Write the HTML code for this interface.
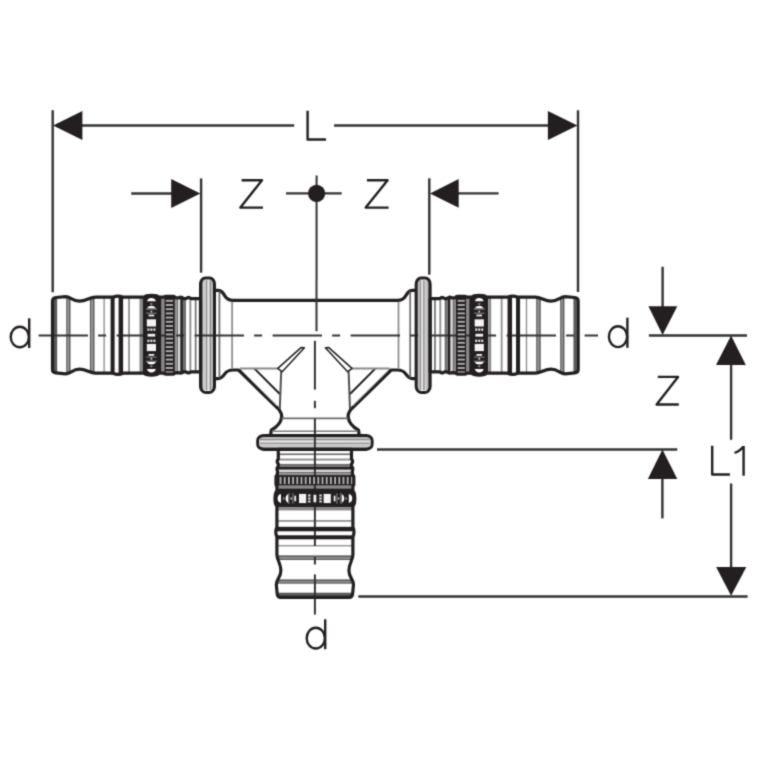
<!DOCTYPE html><html><head><meta charset="utf-8"><style>html,body{margin:0;padding:0;background:#fff;width:762px;height:762px;overflow:hidden;}svg{display:block;font-family:"Liberation Sans",sans-serif;}</style></head><body><svg width="762" height="762" viewBox="0 0 762 762"><filter id="bl" x="0" y="0" width="762" height="762" filterUnits="userSpaceOnUse" color-interpolation-filters="sRGB"><feConvolveMatrix order="3" kernelMatrix="0.02768 0.11101 0.02768 0.11101 0.44521 0.11101 0.02768 0.11101 0.02768" divisor="1" preserveAlpha="true"/></filter><rect width="762" height="762" fill="#fff"/><g filter="url(#bl)"><rect width="762" height="762" fill="#fff"/><defs><clipPath id="pc"><path d="M0,-36.6 L9.5,-36.6 Q12,-38.8 14.5,-36.6 L16.8,-36.6 Q19.2,-38.8 21.6,-37.4 L25.5,-37.6 Q26,-38.9 27,-38.9 L35,-38.9 Q36,-38.9 36.5,-38 L41.5,-38 C42.8,-39.6 44.5,-39.9 49,-39.9 C53.5,-39.9 55.2,-39.6 56.6,-38 L77.5,-38 Q82.5,-40.2 87.5,-38 L105,-38 C111,-38 114,-34 121,-34 C128,-34 130,-38.6 135,-38.6 L144.5,-37.7 Q148.0,-37.4 148.0,-34.2 L148.0,34.2 Q148.0,37.4 144.5,37.7 L135,38.6 C130,38.6 128,34 121,34 C114,34 111,38 105,38 L87.5,38 Q82.5,40.2 77.5,38 L56.6,38 C55.2,39.6 53.5,39.9 49,39.9 C44.5,39.9 42.8,39.6 41.5,38 L36.5,38 Q36,38.9 35,38.9 L27,38.9 Q26,38.9 25.5,37.6 L21.6,37.4 Q19.2,38.8 16.8,36.6 L14.5,36.6 Q12,38.8 9.5,36.6 L0,36.6 Z"/></clipPath><g id="pA"><rect x="-14" y="-57.2" width="14" height="114.4" rx="5" ry="6" fill="#fff"/><rect x="-2.80" y="-55" width="1.60" height="110" fill="#868686"/><rect x="-5.50" y="-55" width="2.70" height="110" fill="#cacaca"/><rect x="-7.10" y="-55" width="1.60" height="110" fill="#929292"/><rect x="-9.00" y="-55" width="1.90" height="110" fill="#e6e6e6"/><rect x="-10.60" y="-55" width="1.60" height="110" fill="#8e8e8e"/><rect x="-12.80" y="-55" width="2.20" height="110" fill="#b6b6b6"/><path d="M0,-36.6 L9.5,-36.6 Q12,-38.8 14.5,-36.6 L16.8,-36.6 Q19.2,-38.8 21.6,-37.4 L25.5,-37.6 Q26,-38.9 27,-38.9 L35,-38.9 Q36,-38.9 36.5,-38 L41.5,-38 C42.8,-39.6 44.5,-39.9 49,-39.9 C53.5,-39.9 55.2,-39.6 56.6,-38 L77.5,-38 Q82.5,-40.2 87.5,-38 L105,-38 C111,-38 114,-34 121,-34 C128,-34 130,-38.6 135,-38.6 L144.5,-37.7 Q148.0,-37.4 148.0,-34.2 L148.0,34.2 Q148.0,37.4 144.5,37.7 L135,38.6 C130,38.6 128,34 121,34 C114,34 111,38 105,38 L87.5,38 Q82.5,40.2 77.5,38 L56.6,38 C55.2,39.6 53.5,39.9 49,39.9 C44.5,39.9 42.8,39.6 41.5,38 L36.5,38 Q36,38.9 35,38.9 L27,38.9 Q26,38.9 25.5,37.6 L21.6,37.4 Q19.2,38.8 16.8,36.6 L14.5,36.6 Q12,38.8 9.5,36.6 L0,36.6 Z" fill="#fff"/><g clip-path="url(#pc)"><rect x="4.00" y="-42" width="1.70" height="84" fill="#707070"/><rect x="9.20" y="-42" width="1.90" height="84" fill="#8e8e8e"/><rect x="14.50" y="-42" width="3.00" height="84" fill="#707070"/><rect x="20.20" y="-42" width="2.30" height="84" fill="#dcdcdc"/><rect x="22.50" y="-42" width="1.30" height="84" fill="#6a6a6a"/><rect x="23.80" y="-42" width="1.90" height="84" fill="#8a8a8a"/><rect x="36.20" y="-42" width="2.80" height="84" fill="#8a8a8a"/><rect x="58.30" y="-42" width="2.70" height="84" fill="#8a8a8a"/><rect x="70.60" y="-42" width="1.80" height="84" fill="#909090"/><rect x="95.70" y="-42" width="1.30" height="84" fill="#8a8a8a"/><rect x="106.00" y="-42" width="1.60" height="84" fill="#5e5e5e"/><rect x="107.60" y="-42" width="1.40" height="84" fill="#8e8e8e"/><rect x="109.00" y="-42" width="1.60" height="84" fill="#5e5e5e"/><rect x="130.00" y="-42" width="1.60" height="84" fill="#5e5e5e"/><rect x="131.60" y="-42" width="1.20" height="84" fill="#8e8e8e"/><rect x="132.80" y="-42" width="1.50" height="84" fill="#5e5e5e"/><rect x="143.30" y="-42" width="3.30" height="84" fill="#5a5a5a"/></g></g><g id="pB"><g clip-path="url(#pc)"><rect x="17.60" y="-42" width="2.60" height="84" fill="#231f20"/><rect x="25.70" y="-42" width="10.50" height="84" fill="#231f20"/><rect x="27.5" y="-35.30" width="7.2" height="1.8" fill="#b4b4b4"/><rect x="27.5" y="-31.10" width="7.2" height="1.8" fill="#b4b4b4"/><rect x="27.5" y="-26.90" width="7.2" height="1.8" fill="#b4b4b4"/><rect x="27.5" y="-22.70" width="7.2" height="1.8" fill="#b4b4b4"/><rect x="27.5" y="-18.50" width="7.2" height="1.8" fill="#b4b4b4"/><rect x="27.5" y="-14.30" width="7.2" height="1.8" fill="#b4b4b4"/><rect x="27.5" y="-10.10" width="7.2" height="1.8" fill="#b4b4b4"/><rect x="27.5" y="-5.90" width="7.2" height="1.8" fill="#b4b4b4"/><rect x="27.5" y="-1.70" width="7.2" height="1.8" fill="#b4b4b4"/><rect x="27.5" y="2.50" width="7.2" height="1.8" fill="#b4b4b4"/><rect x="27.5" y="6.70" width="7.2" height="1.8" fill="#b4b4b4"/><rect x="27.5" y="10.90" width="7.2" height="1.8" fill="#b4b4b4"/><rect x="27.5" y="15.10" width="7.2" height="1.8" fill="#b4b4b4"/><rect x="27.5" y="19.30" width="7.2" height="1.8" fill="#b4b4b4"/><rect x="27.5" y="23.50" width="7.2" height="1.8" fill="#b4b4b4"/><rect x="27.5" y="27.70" width="7.2" height="1.8" fill="#b4b4b4"/><rect x="27.5" y="31.90" width="7.2" height="1.8" fill="#b4b4b4"/><rect x="27.5" y="36.10" width="7.2" height="1.8" fill="#b4b4b4"/><rect x="39.00" y="-42" width="19.00" height="84" fill="#231f20"/><path d="M44.7,-33.9 Q45.5,-37.3 49.1,-37.3 Q52.7,-37.3 53.5,-33.9 Z" fill="#fff"/><rect x="48.1" y="-32.00" width="2" height="1.6" fill="#9a9a9a"/><path d="M44.5,-26.8 Q45.7,-29.4 49.1,-29.4 Q52.5,-29.4 53.7,-26.8 Z" fill="#fff"/><rect x="43.7" y="-26.75" width="10.8" height="1.3" fill="#7a7a7a"/><rect x="48.300000000000004" y="-24.40" width="1.6" height="1.8" fill="#e0e0e0"/><rect x="43.9" y="-22.70" width="10.4" height="1.4" fill="#6a6a6a"/><rect x="46.300000000000004" y="-20.60" width="5.6" height="1.8" fill="#f0f0f0"/><rect x="44.5" y="-15.90" width="9.2" height="7.2" fill="#f4f4f4"/><rect x="45.10" y="-6.80" width="2" height="2.4" fill="#e8e8e8"/><rect x="48.10" y="-6.80" width="2" height="2.4" fill="#e8e8e8"/><rect x="51.10" y="-6.80" width="2" height="2.4" fill="#e8e8e8"/><path d="M44.7,33.9 Q45.5,37.3 49.1,37.3 Q52.7,37.3 53.5,33.9 Z" fill="#fff"/><rect x="48.1" y="30.40" width="2" height="1.6" fill="#9a9a9a"/><path d="M44.5,26.8 Q45.7,29.4 49.1,29.4 Q52.5,29.4 53.7,26.8 Z" fill="#fff"/><rect x="43.7" y="25.45" width="10.8" height="1.3" fill="#7a7a7a"/><rect x="48.300000000000004" y="22.60" width="1.6" height="1.8" fill="#e0e0e0"/><rect x="43.9" y="21.30" width="10.4" height="1.4" fill="#6a6a6a"/><rect x="46.300000000000004" y="18.80" width="5.6" height="1.8" fill="#f0f0f0"/><rect x="44.5" y="8.70" width="9.2" height="7.2" fill="#f4f4f4"/><rect x="45.10" y="4.40" width="2" height="2.4" fill="#e8e8e8"/><rect x="48.10" y="4.40" width="2" height="2.4" fill="#e8e8e8"/><rect x="51.10" y="4.40" width="2" height="2.4" fill="#e8e8e8"/><rect x="45.300000000000004" y="-1.4" width="7.6" height="2.8" fill="#f4f4f4"/><rect x="77.40" y="-42" width="4.50" height="84" fill="#231f20"/><rect x="85.90" y="-42" width="4.00" height="84" fill="#231f20"/></g><path d="M0,-36.6 L9.5,-36.6 Q12,-38.8 14.5,-36.6 L16.8,-36.6 Q19.2,-38.8 21.6,-37.4 L25.5,-37.6 Q26,-38.9 27,-38.9 L35,-38.9 Q36,-38.9 36.5,-38 L41.5,-38 C42.8,-39.6 44.5,-39.9 49,-39.9 C53.5,-39.9 55.2,-39.6 56.6,-38 L77.5,-38 Q82.5,-40.2 87.5,-38 L105,-38 C111,-38 114,-34 121,-34 C128,-34 130,-38.6 135,-38.6 L144.5,-37.7 Q148.0,-37.4 148.0,-34.2 L148.0,34.2 Q148.0,37.4 144.5,37.7 L135,38.6 C130,38.6 128,34 121,34 C114,34 111,38 105,38 L87.5,38 Q82.5,40.2 77.5,38 L56.6,38 C55.2,39.6 53.5,39.9 49,39.9 C44.5,39.9 42.8,39.6 41.5,38 L36.5,38 Q36,38.9 35,38.9 L27,38.9 Q26,38.9 25.5,37.6 L21.6,37.4 Q19.2,38.8 16.8,36.6 L14.5,36.6 Q12,38.8 9.5,36.6 L0,36.6 Z" fill="none" stroke="#231f20" stroke-width="3.2" stroke-linejoin="round"/><rect x="-14" y="-57.2" width="14" height="114.4" rx="5" ry="6" fill="none" stroke="#231f20" stroke-width="3.0"/></g></defs><path d="M214,290.4 L218.2,290.4 C221.5,290.4 222.8,292.5 224.8,295.8 C226.8,299 228.8,300.4 233,300.4 L397.5,300.4 C401.7,300.4 403.7,299 405.7,295.8 C407.7,292.5 409,290.4 412.3,290.4 L416.5,290.4 L416.5,378.6 L412.3,378.6 C409,378.6 407.7,376.8 405.7,373.9 C403.7,371 401.7,370.0 397.5,370.0 L233,370.0 C228.8,370.0 226.8,371 224.8,373.9 C222.8,376.8 221.5,378.6 218.2,378.6 L214,378.6 Z" fill="#fff" stroke="#231f20" stroke-width="3.2"/><line x1="219.4" y1="291.5" x2="219.4" y2="377.5" stroke="#6e6e6e" stroke-width="1.8"/><line x1="410.2" y1="291.5" x2="410.2" y2="377.5" stroke="#6e6e6e" stroke-width="1.8"/><line x1="232.1" y1="301.79999999999995" x2="232.1" y2="368.6" stroke="#8a8a8a" stroke-width="1.7"/><line x1="398.5" y1="301.79999999999995" x2="398.5" y2="368.6" stroke="#8a8a8a" stroke-width="1.7"/><path d="M238.6,367.7 L279.1,409.6 C281.5,413 282,416 281.5,418 C280.5,424 275,428 270.5,430.4 L270.5,437 L314.9,437 L314.9,367.7 Z" fill="#fff"/><path d="M238.6,370.0 L279.1,409.6 C281.5,413 282,416 281.5,418 C280.5,424 275,428 271.3,430.2 L270.6,435" fill="none" stroke="#231f20" stroke-width="3.3" stroke-linejoin="round"/><line x1="242" y1="370.8" x2="277" y2="406" stroke="#9a9a9a" stroke-width="1.0"/><line x1="254.5" y1="368.6" x2="279.8" y2="394" stroke="#231f20" stroke-width="2.0"/><line x1="240" y1="368.5" x2="278" y2="368.5" stroke="#8a8a8a" stroke-width="2"/><line x1="281.2" y1="371.5" x2="279.8" y2="409" stroke="#505050" stroke-width="2"/><path d="M277.8,368.4 L301,347.6 L304.4,347.8 L282.2,371.8 Z" fill="#fff" stroke="#231f20" stroke-width="1.5" stroke-linejoin="round"/><g transform="matrix(-1,0,0,1,629.8,0)"><path d="M238.6,367.7 L279.1,409.6 C281.5,413 282,416 281.5,418 C280.5,424 275,428 270.5,430.4 L270.5,437 L314.9,437 L314.9,367.7 Z" fill="#fff"/><path d="M238.6,370.0 L279.1,409.6 C281.5,413 282,416 281.5,418 C280.5,424 275,428 271.3,430.2 L270.6,435" fill="none" stroke="#231f20" stroke-width="3.3" stroke-linejoin="round"/><line x1="242" y1="370.8" x2="277" y2="406" stroke="#9a9a9a" stroke-width="1.0"/><line x1="254.5" y1="368.6" x2="279.8" y2="394" stroke="#231f20" stroke-width="2.0"/><line x1="240" y1="368.5" x2="278" y2="368.5" stroke="#8a8a8a" stroke-width="2"/><line x1="281.2" y1="371.5" x2="279.8" y2="409" stroke="#505050" stroke-width="2"/><path d="M277.8,368.4 L301,347.6 L304.4,347.8 L282.2,371.8 Z" fill="#fff" stroke="#231f20" stroke-width="1.5" stroke-linejoin="round"/></g><line x1="281.5" y1="418.3" x2="348.3" y2="418.3" stroke="#6a6a6a" stroke-width="1.8"/><line x1="272" y1="431.3" x2="357.8" y2="431.3" stroke="#7a7a7a" stroke-width="1.6"/><use href="#pA" transform="matrix(-1,0,0,1,200.5,335.2)"/><use href="#pA" transform="matrix(1,0,0,1,430.15,335.2)"/><use href="#pA" transform="matrix(0,1,1,0,314.9,449.4)"/><g stroke="#333" stroke-width="2"><line x1="38.6" y1="335.5" x2="88.0" y2="335.5"/><line x1="98.1" y1="335.5" x2="106.1" y2="335.5"/><line x1="116.6" y1="335.5" x2="166.0" y2="335.5"/><line x1="176.1" y1="335.5" x2="184.1" y2="335.5"/><line x1="194.6" y1="335.5" x2="244.0" y2="335.5"/><line x1="254.1" y1="335.5" x2="262.1" y2="335.5"/><line x1="272.6" y1="335.5" x2="322.0" y2="335.5"/><line x1="332.1" y1="335.5" x2="340.1" y2="335.5"/><line x1="350.6" y1="335.5" x2="400.0" y2="335.5"/><line x1="410.1" y1="335.5" x2="418.1" y2="335.5"/><line x1="428.6" y1="335.5" x2="478.0" y2="335.5"/><line x1="488.1" y1="335.5" x2="496.1" y2="335.5"/><line x1="506.6" y1="335.5" x2="556.0" y2="335.5"/><line x1="566.1" y1="335.5" x2="574.1" y2="335.5"/><line x1="584.6" y1="335.5" x2="598.0" y2="335.5"/><line x1="316.6" y1="175.5" x2="316.5" y2="331.2"/><line x1="314.9" y1="340.8" x2="314.9" y2="389.6"/><line x1="314.9" y1="400.8" x2="314.9" y2="408.2"/><line x1="314.9" y1="418.4" x2="314.9" y2="546"/><line x1="314.9" y1="557" x2="314.9" y2="564.5"/><line x1="314.9" y1="574.4" x2="314.9" y2="614.6"/></g><use href="#pB" transform="matrix(-1,0,0,1,200.5,335.2)"/><use href="#pB" transform="matrix(1,0,0,1,430.15,335.2)"/><use href="#pB" transform="matrix(0,1,1,0,314.9,449.4)"/><g stroke="#333333" stroke-width="2.4"><line x1="52.7" y1="110.2" x2="52.7" y2="292.3"/><line x1="578" y1="110.3" x2="578" y2="292"/><line x1="82" y1="125.5" x2="294.2" y2="125.5"/><line x1="334.1" y1="125.5" x2="548" y2="125.5"/><line x1="131.2" y1="193.5" x2="172" y2="193.5"/><line x1="201.1" y1="178.4" x2="201.1" y2="272.7"/><line x1="429.3" y1="178.3" x2="429.3" y2="274.7"/><line x1="458" y1="193.4" x2="498.6" y2="193.4"/><line x1="286" y1="193.4" x2="341.7" y2="193.4"/><line x1="648.9" y1="335.5" x2="747" y2="335.5"/><line x1="662.6" y1="266.8" x2="662.6" y2="307"/><line x1="662.4" y1="478" x2="662.4" y2="518.4"/><line x1="377" y1="449.5" x2="677.3" y2="449.5"/><line x1="358.3" y1="596.5" x2="747.6" y2="596.5"/><line x1="731.1" y1="365" x2="731.1" y2="439.8"/><line x1="731.1" y1="483.5" x2="731.1" y2="567"/></g><g fill="#231f20"><polygon points="53.1,125.5 82.4,111.1 82.4,140"/><polygon points="577.4,125.5 547.9,111 547.9,139.9"/><polygon points="200.3,193.5 171.2,179 171.2,207.9"/><polygon points="430,193.4 458.7,178.9 458.7,207.8"/><polygon points="662.6,335 648.4,306.2 677.3,306.2"/><polygon points="731.1,335.6 716,365.1 745.8,365.1"/><polygon points="662.4,449.6 647.9,479 677.3,479"/><polygon points="731.1,595.8 716.1,567 746.3,567"/></g><circle cx="316.6" cy="193.4" r="8.6" fill="#231f20"/><g fill="none" stroke="#231f20" stroke-width="2.4" stroke-linejoin="round"><path d="M307.6,110.8 L307.6,139.5 L326,139.5"/><path d="M241.6,180.2 L262.0,180.2 L240.4,207.6 L263.0,207.6"/><path d="M366.9,180.2 L387.6,180.2 L365.7,207.6 L388.6,207.6"/><path d="M657.8,376.9 L678.0,376.9 L656.6,404.5 L678.8,404.5"/><path d="M712.2,445.7 L712.2,474.5 L729.9,474.5"/><path d="M734.6,452.8 Q740.5,450.8 743.2,446.6 M743.6,446.1 L743.6,475.7" stroke-linejoin="round"/><ellipse cx="19.80" cy="337.05" rx="9.1" ry="10.25"/><line x1="29.20" y1="318.3" x2="29.20" y2="348.0"/><ellipse cx="618.00" cy="336.65" rx="9.1" ry="10.45"/><line x1="627.40" y1="317.7" x2="627.40" y2="347.8"/><ellipse cx="315.80" cy="638.15" rx="9.1" ry="10.35"/><line x1="325.20" y1="619.3" x2="325.20" y2="649.2"/></g></g></svg></body></html>
